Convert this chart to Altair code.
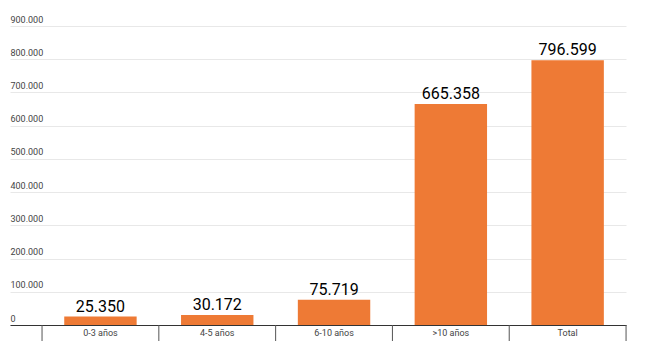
import altair as alt
import pandas as pd

categories = ["0-3 años", "4-5 años", "6-10 años", ">10 años", "Total"]
values = [25350, 30172, 75719, 665358, 796599]
y_ticks = [0, 100000, 200000, 300000, 400000, 500000, 600000, 700000, 800000, 900000]

df = pd.DataFrame({"cat": categories, "val": values})

fmt = "replace(format(datum.value, ','), /,/g, '.')"

x_scale = alt.Scale(paddingInner=0.38, paddingOuter=0.327, align=0.71)
x_axis = alt.Axis(
    labelAngle=0,
    ticks=False,
    domainColor="#333333",
    domainWidth=1,
    labelPadding=3,
    labelBaseline="top",
    labelFont="Roboto",
    labelFontSize=9,
    labelColor="#444444",
    grid=False,
)
y_scale = alt.Scale(domain=[0, 900000], nice=False)
y_axis = alt.Axis(
    values=y_ticks,
    labelExpr=fmt,
    labelAlign="left",
    labelBaseline="bottom",
    labelOffset=-2,
    labelPadding=0,
    labelOverlap=False,
    ticks=False,
    domain=False,
    labelFont="Roboto",
    labelFontSize=9,
    labelColor="#444444",
    gridColor="#e8e8e8",
    gridWidth=1,
)

x = alt.X("cat:N", sort=categories, title=None, scale=x_scale, axis=x_axis)
y = alt.Y("val:Q", title=None, scale=y_scale, axis=y_axis)

base = alt.Chart(df).encode(x=x, y=y)

bars = base.mark_bar(color="#EE7A35")

labels = base.transform_calculate(
    lbl="replace(format(datum.val, ','), /,/g, '.')"
).mark_text(
    baseline="bottom", dy=-2, font="Roboto", fontSize=16, fontWeight="normal", color="#000000"
).encode(text="lbl:N")

# category boundary ticks below the axis line
ticks_left = alt.Chart(df).mark_rule(color="#555555", strokeWidth=1, xOffset=-22.2).encode(
    x=alt.X("cat:N", sort=categories, title=None, scale=x_scale, axis=x_axis, bandPosition=0),
    y=alt.value(299),
    y2=alt.value(315),
)
ticks_right = alt.Chart(df).transform_filter(
    alt.datum.cat == categories[-1]
).mark_rule(color="#555555", strokeWidth=1, xOffset=22.2).encode(
    x=alt.X("cat:N", sort=categories, title=None, scale=x_scale, axis=x_axis, bandPosition=1),
    y=alt.value(299),
    y2=alt.value(315),
)

chart = (
    alt.layer(bars, labels, ticks_left, ticks_right)
    .properties(
        width=616,
        height=299,
        padding={"left": 10, "top": 26, "right": 30, "bottom": 28},
        autosize=alt.AutoSizeParams(type="none"),
        background="white",
    )
    .configure_view(stroke=None)
)

chart.save("out.html", embed_options={"renderer": "svg", "actions": False})
